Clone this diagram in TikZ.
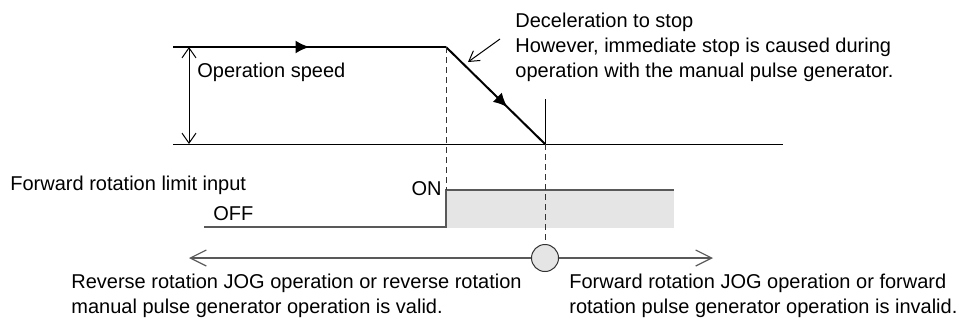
\documentclass[tikz,border=0pt]{standalone}
\usepackage{fontspec}
\setmainfont{Liberation Sans}
\usepackage{xcolor}
\usepackage{tikz}
\usetikzlibrary{positioning,arrows.meta,decorations.markings}

\definecolor{sigline}{gray}{0.35}
\definecolor{sigfill}{gray}{0.90}

\begin{document}
\begin{tikzpicture}[
    x=0.5pt, y=-0.5pt,
    txt/.style={inner sep=0pt, font=\fontsize{10}{12.5}\selectfont, align=left},
    speed/.style={line width=1pt, black},
    thin/.style={line width=0.5pt, black},
    sig/.style={line width=0.6pt, color=sigline},
    guide/.style={line width=0.5pt, dashed, dash pattern=on 3pt off 2pt, color=black!80},
    openarr/.style={line width=0.5pt, {Straight Barb[length=5pt,width=7pt]}-{Straight Barb[length=5pt,width=7pt]}},
    dirarr/.style={line width=0.6pt, color=sigline,
                   {Straight Barb[length=8pt,width=8pt]}-{Straight Barb[length=8pt,width=8pt]}},
    pointer/.style={line width=0.5pt, -{Straight Barb[length=5pt,width=6pt]}},
    midarr/.style={decoration={markings, mark=at position #1 with {\arrow{Latex[length=7pt,width=6.5pt]}}},
                   postaction={decorate}}
]
\useasboundingbox (0,0) rectangle (959,323);

% speed profile
\coordinate (v0)   at (173,47);
\coordinate (vdec) at (446,47);
\coordinate (vend) at (545,144);
\coordinate (b0)   at (173,144);
\coordinate (b1)   at (783,144);
\draw[speed, midarr=0.5] (v0) -- (vdec);
\draw[speed, midarr=0.62] (vdec) -- (vend);
\draw[thin] (b0) -- (b1);
\draw[thin] (545,99) -- (vend);

% operation speed
\coordinate (hi) at (189,47);
\coordinate (lo) at (189,144);
\draw[openarr] (hi) -- (lo);
\node[txt, anchor=west] (opspeed) at (197,72) {Operation speed};

% deceleration note
\node[txt, anchor=west] (decnote) at (515,47)
    {Deceleration to stop\\
     However, immediate stop is caused during\\
     operation with the manual pulse generator.};
\coordinate (ptail) at (500,39);
\coordinate (phead) at (468,62);
\draw[pointer] (ptail) -- (phead);

% limit input signal
\coordinate (off0) at (204,227);
\coordinate (off1) at (446,227);
\coordinate (on0)  at (446,190);
\coordinate (on1)  at (674,190);
\fill[sigfill] (on0) rectangle (674,228);
\draw[sig] (off0) -- (off1) -- (on0) -- (on1);
\node[txt, anchor=west] (limit) at (10,185) {Forward rotation limit input};
\node[txt, anchor=east] (on)  at (442,189) {ON};
\node[txt, anchor=west] (off) at (213,214) {OFF};

% direction line
\coordinate (dl) at (189,258);
\coordinate (dr) at (713,258);
\draw[dirarr] (dl) -- (dr);
\node[circle, draw=black!80, fill=sigfill, line width=0.5pt, minimum size=13.5pt, inner sep=0pt]
    (stopmark) at (545,258) {};

% guides
\draw[guide] (vdec) -- (on0);
\draw[guide] (vend) -- (stopmark.north);

% results
\node[txt, anchor=west] (revtxt) at (71,296)
    {Reverse rotation JOG operation or reverse rotation\\
     manual pulse generator operation is valid.};
\node[txt, anchor=west] (fwdtxt) at (569,296)
    {Forward rotation JOG operation or forward\\
     rotation pulse generator operation is invalid.};

\end{tikzpicture}
\end{document}
